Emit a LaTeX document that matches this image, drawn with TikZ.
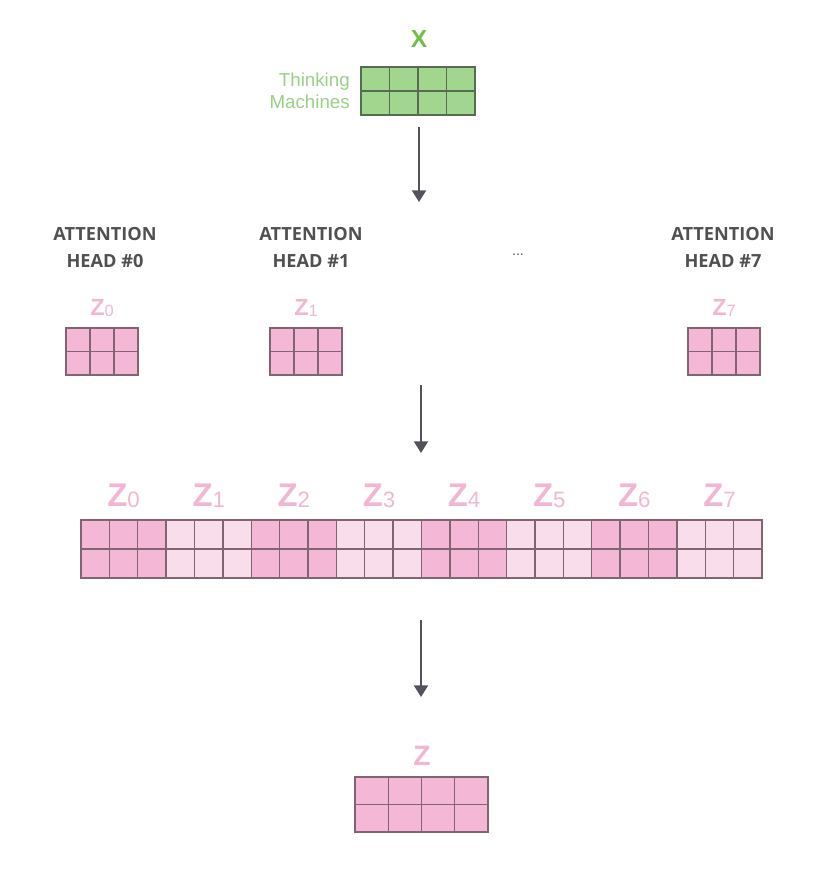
\documentclass[tikz,border=0pt]{standalone}
\usepackage{fontspec}
\setmainfont{Liberation Sans}
\newfontfamily\headfont{Open Sans}
\usetikzlibrary{arrows.meta}

\definecolor{xgreen}{RGB}{112,190,72}
\definecolor{wordgreen}{RGB}{152,208,132}
\definecolor{xfill}{RGB}{162,214,142}
\definecolor{xline}{RGB}{88,108,84}
\definecolor{zdark}{RGB}{244,183,214}
\definecolor{zlight}{RGB}{249,221,234}
\definecolor{zline}{RGB}{128,100,114}
\definecolor{zpink}{RGB}{241,182,211}
\definecolor{headgray}{RGB}{80,80,80}
\definecolor{arrowgray}{RGB}{82,82,92}

% Z with a subscript: font size, subscript size, subscript
\newcommand{\zname}[3]{{\bfseries\fontsize{#1}{#1}\selectfont Z}{\fontsize{#2}{#2}\selectfont\raisebox{-1.6pt}{#3}}}

\begin{document}
\begin{tikzpicture}[x=0.03cm,y=-0.03cm,
  greencell/.style={fill=xfill,draw=xline,line width=1.1pt},
  darkcell/.style={fill=zdark,draw=zline,line width=1.1pt},
  lightcell/.style={fill=zlight,draw=zline,line width=1.1pt},
  headtxt/.style={font=\headfont\bfseries\fontsize{15.5}{15.5}\selectfont,text=headgray,anchor=base},
  zlab/.style={text=zpink,anchor=base,inner sep=0pt},
  arr/.style={draw=arrowgray,line width=1.8pt,-{Triangle[length=10pt,width=12pt]}}]
\useasboundingbox (0,0) rectangle (837,891);

% input X
\node[zlab,text=xgreen,font=\bfseries\fontsize{21}{21}\selectfont] (xlab) at (419,47) {X};
\node[anchor=base east,inner sep=0pt,text=wordgreen,font=\fontsize{16}{16}\selectfont] (w1) at (350,86) {Thinking};
\node[anchor=base east,inner sep=0pt,text=wordgreen,font=\fontsize{16}{16}\selectfont] (w2) at (350,108) {Machines};
\foreach \i in {0,...,3}
  \foreach \j in {0,1}
    \draw[greencell] (361+\i*28.5,67+\j*24) rectangle ++(28.5,24);
\coordinate (xbot) at (419,127);
\coordinate (headtop) at (419,202);
\draw[arr] (xbot) -- (headtop);

% attention heads
\foreach \c/\n/\xs in {105/0/66,311/1/270,723/7/688}{
  \node[headtxt] (att\n) at (\c,240) {ATTENTION};
  \node[headtxt] (head\n) at (\c,267) {HEAD \#\n};
  \node[zlab] (zh\n) at (\xs+36,315) {\zname{20}{14}{\n}};
  \foreach \i in {0,1,2}
    \foreach \j in {0,1}
      \draw[darkcell] (\xs+\i*24,328+\j*23.5) rectangle ++(24,23.5);
}
\node[text=headgray,anchor=base,font=\fontsize{12}{12}\selectfont] (dots) at (518,255) {...};
\coordinate (headbot) at (421,385);
\coordinate (cattop) at (421,453);
\draw[arr] (headbot) -- (cattop);

% concatenated heads
\foreach \g/\s in {0/darkcell,1/lightcell,2/darkcell,3/lightcell,4/darkcell,5/lightcell,6/darkcell,7/lightcell}{
  \node[zlab] (zc\g) at (81+\g*85.125+42.6,506) {\zname{28}{19}{\g}};
  \foreach \i in {0,1,2}
    \foreach \j in {0,1}
      \draw[\s] (81+\g*85.125+\i*28.375,520+\j*29) rectangle ++(28.375,29);
}
\coordinate (catbot) at (421,620);
\coordinate (ztop) at (421,697);
\draw[arr] (catbot) -- (ztop);

% output Z
\node[zlab,font=\bfseries\fontsize{24}{24}\selectfont] (zout) at (422,765) {Z};
\foreach \i in {0,...,3}
  \foreach \j in {0,1}
    \draw[darkcell] (355+\i*33.25,777+\j*27.5) rectangle ++(33.25,27.5);

\end{tikzpicture}
\end{document}
